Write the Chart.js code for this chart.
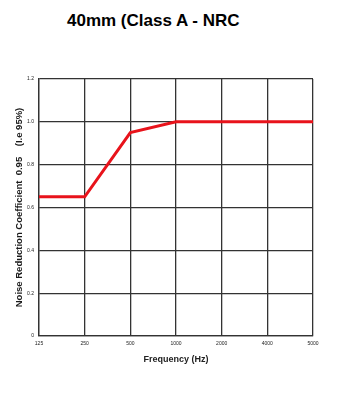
<!DOCTYPE html>
<html>
<head>
<meta charset="utf-8">
<script src="https://cdn.jsdelivr.net/npm/chart.js@4"></script>
<style>
  html, body { margin: 0; padding: 0; background: #fff; }
  #wrap { position: relative; width: 339px; height: 396px; }
  #title { position: absolute; left: 67px; top: 11px; font: bold 17px "Liberation Sans", Arial, sans-serif; color: #000; white-space: nowrap; }
  canvas { position: absolute; left: 0; top: 0; }
</style>
</head>
<body>
<div id="wrap">
  <div id="title">40mm (Class A - NRC</div>
  <canvas id="myChart" width="339" height="396"></canvas>
</div>
<script>
"use strict";
var frequencies = ['125', '250', '500', '1000', '2000', '4000', '5000'];
var nrcValues = [0.65, 0.65, 0.95, 1, 1, 1, 1];
var yTicks = [0, 0.2, 0.4, 0.6, 0.8, 1, 1.2];

var tickFont = { family: '"Liberation Sans Narrow", "Liberation Sans", sans-serif', size: 5 };

var ctx = document.getElementById('myChart').getContext('2d');
var chart = new Chart(ctx, {
    type: 'line',
    data: {
        labels: frequencies,
        datasets: [{
            data: nrcValues,
            borderColor: '#e8131b',
            borderWidth: 3,
            pointRadius: 0,
            tension: 0,
            fill: false
        }]
    },
    options: {
        responsive: false,
        animation: false,
        layout: { padding: { left: 0, top: 79, right: 26, bottom: 28 } },
        plugins: { legend: { display: false }, tooltip: { enabled: false } },
        scales: {
            x: {
                offset: false,
                grid: { color: '#333', lineWidth: 1.3, drawTicks: false },
                border: { color: '#333', width: 1.3 },
                ticks: { font: tickFont, color: '#222', padding: 5, maxRotation: 0 },
                title: {
                    display: true,
                    text: 'Frequency (Hz)',
                    font: { family: '"Liberation Sans Narrow", "Liberation Sans", sans-serif', size: 9, weight: 'bold' },
                    color: '#222',
                    padding: { top: 6, bottom: 3 }
                },
                afterFit: function (s) { s.height = 32; }
            },
            y: {
                min: 0,
                max: 1.2,
                afterBuildTicks: function (s) { s.ticks = yTicks.map(function (v) { return { value: v }; }); },
                grid: { color: '#333', lineWidth: 1.3, drawTicks: false },
                border: { color: '#333', width: 1.3 },
                ticks: { font: tickFont, color: '#222', padding: 5 },
                title: {
                    display: true,
                    text: 'Noise Reduction Coefficient  0.95    (I.e 95%)',
                    font: { family: '"Liberation Sans", Arial, sans-serif', size: 9.5, weight: 'bold' },
                    color: '#1a1a1a',
                    padding: { top: 14 }
                },
                afterFit: function (s) { s.width = 39; }
            }
        }
    }
});
</script>
</body>
</html>
